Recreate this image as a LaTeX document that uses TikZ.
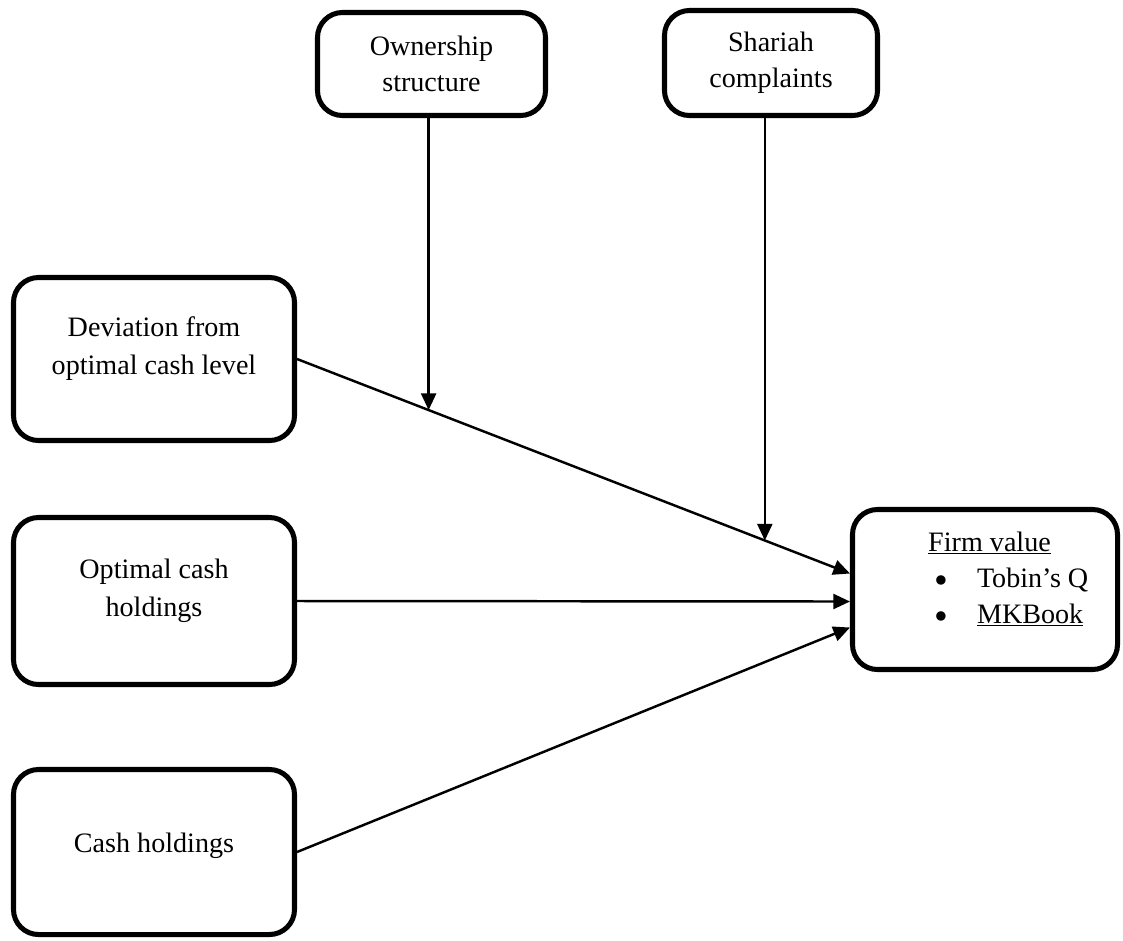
\documentclass[tikz,border=0pt]{standalone}
\usepackage{fontspec}
\setmainfont{Liberation Serif}
\usetikzlibrary{calc,positioning,arrows.meta}

\newcommand{\listdot}{\raisebox{-0.2em}{\scalebox{1.4}{\textbullet}}}

\begin{document}
\begin{tikzpicture}[x=0.03cm, y=-0.03cm,
  every node/.style={font=\fontsize{24}{31}\selectfont},
  varbox/.style={draw, line width=4.3pt, rounded corners=0.75cm, align=center, inner sep=0pt},
  leftbox/.style={varbox, minimum width=8.43cm, text depth=0.8cm, font=\fontsize{24}{32.5}\selectfont},
  link/.style={line width=2.1pt, -{Triangle[length=0.5cm, width=0.45cm]}}]
  \useasboundingbox (0,0) rectangle (1123,940);
  % moderators on top
  \node[varbox, minimum width=6.84cm, minimum height=3.09cm] (own) at (431.5,64) {Ownership\\structure};
  \node[varbox, minimum width=6.39cm, minimum height=3.15cm] (shariah) at (771,63) {Shariah\\complaints};
  % explanatory variables on the left
  \node[leftbox, minimum height=4.89cm] (dev) at (154,359) {Deviation from\\optimal cash level};
  \node[leftbox, minimum height=5.01cm] (opt) at (154,601) {Optimal cash\\holdings};
  \node[leftbox, minimum height=4.95cm, text depth=0.55cm] (cash) at (154,852) {Cash holdings};
  % dependent variable
  \node[varbox, minimum width=7.95cm, minimum height=4.8cm] (firm) at (985,589.5) {};
  \node[anchor=west, align=left, inner sep=0pt] (firmlist) at ($(firm.west)+(78,-9)$)
  {\underline{Firm value}\\
   \hspace*{0.2cm}\listdot\hspace{0.85cm}Tobin's Q\\
   \hspace*{0.2cm}\listdot\hspace{0.85cm}\underline{MKBook}};
  %
  % arrows into firm value
  \coordinate (fA) at ($(firm.west)+(0,-16)$);
  \coordinate (fB) at ($(firm.west)+(0,12)$);
  \coordinate (fC) at ($(firm.west)+(0,38)$);
  \draw[link] (dev.east) -- (fA);
  \draw[link] (opt.east) -- (fB);
  \draw[link] (cash.east) -- (fC);
  %
  % moderating arrows onto the deviation path
  \coordinate (dOwn) at ($(dev.east)!0.238!(fA)$);
  \coordinate (dSh) at ($(dev.east)!0.846!(fA)$);
  \draw[link] (dOwn |- own.south) -- (dOwn);
  \draw[link] (dSh |- shariah.south) -- (dSh);
\end{tikzpicture}
\end{document}
